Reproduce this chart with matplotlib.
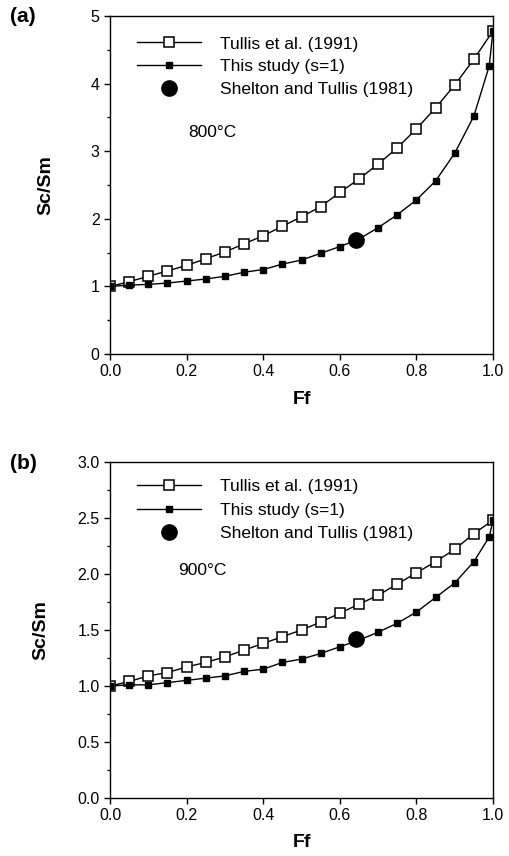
import matplotlib
matplotlib.use("Agg")
import matplotlib.pyplot as plt
from matplotlib.ticker import MultipleLocator, StrMethodFormatter

plt.rcParams['font.family'] = ['Liberation Sans', 'DejaVu Sans']

# Ff values
ff = [0.0, 0.05, 0.10, 0.15, 0.20, 0.25, 0.30, 0.35, 0.40, 0.45, 0.50,
      0.55, 0.60, 0.65, 0.70, 0.75, 0.80, 0.85, 0.90, 0.95, 1.0]
ff_study = [0.0, 0.05, 0.10, 0.15, 0.20, 0.25, 0.30, 0.35, 0.40, 0.45, 0.50,
            0.55, 0.60, 0.65, 0.70, 0.75, 0.80, 0.85, 0.90, 0.95, 0.99, 1.0]

# (a) 800 C
tullis_800 = [1.0, 1.07, 1.15, 1.23, 1.31, 1.41, 1.51, 1.63, 1.75, 1.89, 2.03,
              2.18, 2.39, 2.59, 2.81, 3.05, 3.33, 3.64, 3.98, 4.36, 4.78]
study_800 = [1.0, 1.02, 1.03, 1.05, 1.08, 1.11, 1.15, 1.21, 1.25, 1.33, 1.39,
             1.49, 1.59, 1.70, 1.87, 2.06, 2.28, 2.56, 2.97, 3.52, 4.26, 4.78]
shelton_800 = (0.642, 1.68)

# (b) 900 C
tullis_900 = [1.0, 1.04, 1.09, 1.12, 1.17, 1.21, 1.26, 1.32, 1.38, 1.44, 1.50,
              1.57, 1.65, 1.73, 1.81, 1.91, 2.01, 2.11, 2.22, 2.36, 2.48]
study_900 = [1.0, 1.01, 1.01, 1.03, 1.05, 1.07, 1.09, 1.13, 1.15, 1.21, 1.24,
             1.29, 1.35, 1.41, 1.48, 1.56, 1.66, 1.79, 1.92, 2.11, 2.33, 2.48]
shelton_900 = (0.643, 1.42)

fig = plt.figure(figsize=(5.1, 8.56), dpi=100)
ax1 = fig.add_axes([0.2157, 0.5864, 0.751, 0.3949])
ax2 = fig.add_axes([0.2157, 0.0678, 0.751, 0.3925])

panels = [
    (ax1, tullis_800, study_800, shelton_800, "800\u00b0C", (0.205, 3.27), 5, 1, 0.5, '{x:.0f}', '(a)', 0.981, -0.144, 0.45, 0.986),
    (ax2, tullis_900, study_900, shelton_900, "900\u00b0C", (0.178, 2.03), 3, 0.5, 0.25, '{x:.1f}', '(b)', 0.459, -0.157, 0.5, 0.997),
]

for ax, tul, stu, shel, temp, tpos, ymax, ymaj, ymin, fmt, lab, ly, ylx, lsp, lgy in panels:
    ax.plot(ff, tul, color='black', lw=1, marker='s', ms=6.5, mfc='white',
            mec='black', mew=1.1, label='Tullis et al. (1991)')
    ax.plot(ff_study, stu, color='black', lw=1, marker='s', ms=4,
            label='This study (s=1)')
    ax.plot([shel[0]], [shel[1]], 'o', color='black', ms=11, ls='none',
            label='Shelton and Tullis (1981)')
    ax.set_xlim(0, 1.0)
    ax.set_ylim(0, ymax)
    ax.xaxis.set_major_locator(MultipleLocator(0.2))
    ax.yaxis.set_major_locator(MultipleLocator(ymaj))
    ax.yaxis.set_minor_locator(MultipleLocator(ymin))
    ax.xaxis.set_major_formatter(StrMethodFormatter('{x:.1f}'))
    ax.yaxis.set_major_formatter(StrMethodFormatter(fmt))
    ax.tick_params(which='major', direction='out', length=4, width=1, labelsize=11.5)
    ax.tick_params(which='minor', direction='out', length=2, width=1)
    for s in ax.spines.values():
        s.set_linewidth(1)
    ax.set_xlabel('Ff', fontsize=14, fontweight='bold', labelpad=8)
    ax.set_ylabel('Sc/Sm', fontsize=14, fontweight='bold')
    ax.yaxis.set_label_coords(ylx, 0.5)
    ax.text(tpos[0], tpos[1], temp, fontsize=12.5, ha='left', va='center')
    ax.legend(loc='upper left', bbox_to_anchor=(0.03, lgy), frameon=False,
              fontsize=12.5, handlelength=3.7, handletextpad=1.1,
              labelspacing=lsp)
    fig.text(0.02, ly, lab, fontsize=15, fontweight='bold', ha='left', va='center')

fig.savefig('out.png', dpi=100)
